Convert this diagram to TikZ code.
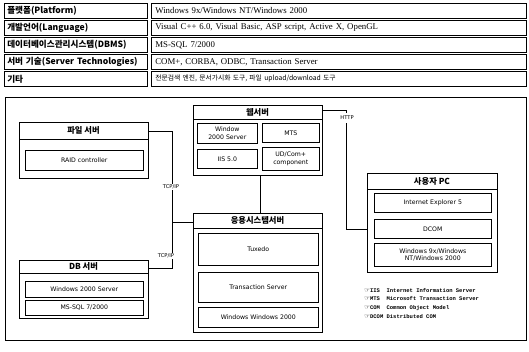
\documentclass[tikz,border=0pt]{standalone}
\usepackage{fontspec}
\setmainfont{Liberation Serif}
\setsansfont{DejaVu Sans}
\setmonofont{Liberation Mono}
\newfontfamily\kr{Noto Sans CJK KR}
\newfontfamily\djv{DejaVu Sans}
\begin{document}
\begin{tikzpicture}[x=1pt,y=-1pt,
  line width=0.6pt,
  lcell/.style={draw, anchor=north west, inner xsep=3pt, inner ysep=0pt, text width=137pt, minimum height=15pt, align=left, font=\kr\bfseries\fontsize{8.6}{9}\selectfont},
  rcell/.style={draw, anchor=north west, inner xsep=4pt, inner ysep=0pt, text width=367pt, minimum height=15pt, align=left, font=\fontsize{8.8}{9}\selectfont},
  group/.style={draw, anchor=north west, inner sep=0pt},
  gtitle/.style={font=\kr\bfseries\fontsize{8.3}{9}\selectfont, inner sep=1pt},
  item/.style={draw, anchor=north west, inner sep=0pt, align=center, font=\sffamily\fontsize{6.2}{7.6}\selectfont},
  lbl/.style={fill=white, inner sep=1pt, font=\sffamily\fontsize{5.2}{6}\selectfont},
  conn/.style={line width=0.6pt}
]
\useasboundingbox (0,0) rectangle (529,351);

% ---- top table ----
\node[lcell] (l1) at (4,3)  {플랫폼(Platform)};
\node[lcell] (l2) at (4,20) {개발언어(Language)};
\node[lcell] (l3) at (4,37) {데이터베이스관리시스템(DBMS)};
\node[lcell] (l4) at (4,54) {서버 기술(Server Technologies)};
\node[lcell] (l5) at (4,71) {기타};
\node[rcell] (r1) at (151,3)  {Windows 9x/Windows NT/Windows 2000};
\node[rcell] (r2) at (151,20) {Visual C++ 6.0, Visual Basic, ASP script, Active X, OpenGL};
\node[rcell] (r3) at (151,37) {MS-SQL 7/2000};
\node[rcell] (r4) at (151,54) {COM+, CORBA, ODBC, Transaction Server};
\node[rcell, font=\kr\fontsize{6.8}{7}\selectfont] (r5) at (151,71) {전문검색 엔진, 문서가시화 도구, 파일 upload/download 도구};

% ---- frame ----
\node[group, minimum width=521pt, minimum height=243pt] (frame) at (5,97) {};

% ---- file server ----
\node[group, minimum width=129pt, minimum height=56pt] (fs) at (19,122) {};
\draw (19,139) -- (148,139);
\node[gtitle] (fst) at (83.5,130.5) {파일 서버};
\node[item, minimum width=118pt, minimum height=20pt] (raid) at (25,150) {RAID controller};

% ---- web server ----
\node[group, minimum width=129pt, minimum height=70pt] (web) at (193,105) {};
\draw (193,119) -- (322,119);
\node[gtitle] (webt) at (257.5,112) {웹서버};
\node[item, minimum width=60pt, minimum height=20pt] (w1) at (197,123) {Window\\2000 Server};
\node[item, minimum width=57pt, minimum height=19pt] (w2) at (262,123) {MTS};
\node[item, minimum width=60pt, minimum height=19pt] (w3) at (197,149) {IIS 5.0};
\node[item, minimum width=57pt, minimum height=23pt] (w4) at (262,147) {UD/Com+\\component};

% ---- application server ----
\node[group, minimum width=129pt, minimum height=119pt] (app) at (193,213) {};
\draw (193,228) -- (322,228);
\node[gtitle] (appt) at (257.5,220.5) {응용시스템서버};
\node[item, minimum width=120pt, minimum height=32pt] (a1) at (198,233) {Tuxedo};
\node[item, minimum width=120pt, minimum height=30pt] (a2) at (198,272) {Transaction Server};
\node[item, minimum width=120pt, minimum height=20pt] (a3) at (198,307) {Windows Windows 2000};

% ---- DB server ----
\node[group, minimum width=129pt, minimum height=58pt] (db) at (19,260) {};
\draw (19,273) -- (148,273);
\node[gtitle] (dbt) at (83.5,266.5) {DB 서버};
\node[item, minimum width=118pt, minimum height=16pt] (d1) at (25,281) {Windows 2000 Server};
\node[item, minimum width=118pt, minimum height=15pt] (d2) at (25,300) {MS-SQL 7/2000};

% ---- user PC ----
\node[group, minimum width=130pt, minimum height=99pt] (pc) at (367,173) {};
\draw (367,189) -- (497,189);
\node[gtitle] (pct) at (432,181) {사용자 PC};
\node[item, minimum width=117pt, minimum height=19pt] (p1) at (374,193) {Internet Explorer 5};
\node[item, minimum width=117pt, minimum height=19pt] (p2) at (374,219) {DCOM};
\node[item, minimum width=117pt, minimum height=23pt] (p3) at (374,243) {Windows 9x/Windows\\NT/Windows 2000};

% ---- connectors ----
\coordinate (b1) at (172,131);
\coordinate (b2) at (172,222);
\coordinate (b3) at (172,268);
\draw[conn] (fs.east |- b1) -- (b1) -- (b3) -- (db.east |- b3);
\draw[conn] (b2) -- (app.west |- b2);
\node[lbl] (tcp1) at (171,187) {TCP/IP};
\node[lbl] (tcp2) at (166,256) {TCP/IP};

\coordinate (wa) at (260,190);
\draw[conn] (web.south -| wa) -- (app.north -| wa);

\coordinate (h1) at (346,110);
\coordinate (h2) at (346,229);
\draw[conn] (web.east |- h1) -- (h1) -- (h2) -- (pc.west |- h2);
\node[lbl, minimum height=10pt] (http) at (347,118) {HTTP};

% ---- legend ----
\node[anchor=north west, align=left, inner sep=0pt, font=\ttfamily\bfseries\fontsize{5.5}{8.6}\selectfont] (legend) at (364,288)
 {{\djv\fontsize{6.5}{8.6}\selectfont ☞}IIS~~Internet Information Server\\
  {\djv\fontsize{6.5}{8.6}\selectfont ☞}MTS~~Microsoft Transaction Server\\
  {\djv\fontsize{6.5}{8.6}\selectfont ☞}COM~~Common Object Model\\
  {\djv\fontsize{6.5}{8.6}\selectfont ☞}DCOM~Distributed COM};
\end{tikzpicture}
\end{document}
